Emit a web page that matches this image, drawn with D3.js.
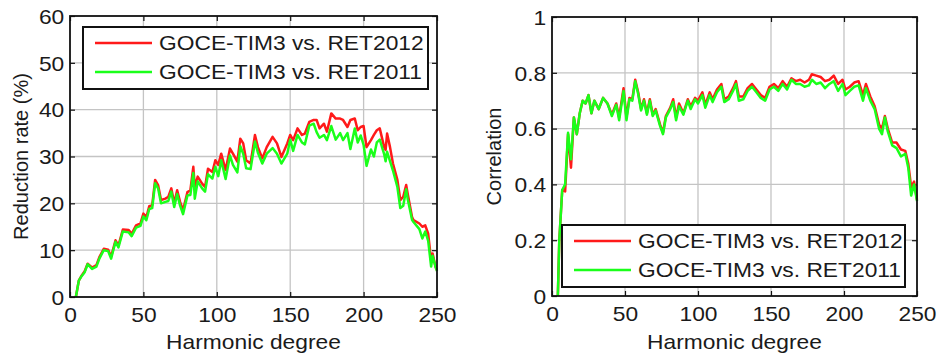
<!DOCTYPE html>
<html>
<head>
<meta charset="utf-8">
<script src="https://cdn.jsdelivr.net/npm/d3@7"></script>
<style>
  body { margin: 0; background: #fff; }
  text { font-family: "Liberation Sans", Arial, sans-serif; fill: #1a1a1a; }
</style>
</head>
<body>
<div id="chart"></div>
<script>
// left panel: reduction rate (%)
const rateDegrees = [4,6,8,10,12,15,18,20,23,26,28,31,33,36,40,42,45,48,50,52,54,56,58,60,62,65,67,69,71,73,75,77,80,82,84,85,87,90,92,94,97,99,101,103,106,109,111,114,116,118,120,123,126,128,131,134,138,141,144,148,150,152,155,158,160,163,166,168,170,173,175,178,181,184,186,189,191,194,196,198,200,202,205,207,209,211,214,215,216,218,220,223,225,227,229,230,233,234,238,240,242,244,246,247,249,250];
const rate2012 = [0,3.5,4.6,5.5,7.1,6.3,6.8,8.5,10.3,10.1,8.6,12.1,11,14.4,14.3,13.5,15.3,15.7,17.8,17,19.4,19.6,25,23.9,20.7,21,21.4,23.2,20,22.8,20.3,18.5,22.4,22.8,27.8,23.5,25.7,24.2,23.5,27.4,26.7,29.2,28.2,30.6,27.1,31.7,30.6,28.9,33.8,32.8,29.2,28.5,34.6,32,29.6,32,34.2,32.8,29.9,32.8,34.6,33.5,36,34.6,34.9,37.4,37.8,37.8,36,37,35.3,39.2,38.1,38.1,37.8,36.3,37.8,38.1,35.6,36.3,36.5,32,33.5,34.6,35.6,36,32,31.4,34.9,32,28.5,25,20.7,21.4,23.9,22.1,17.1,16.4,15.7,15,15.3,13.5,7.8,9.3,6.4,5.7];
const rate2011 = [0,3.5,4.5,5.3,7,6,6.5,8.2,10,9.8,8.2,11.8,10.6,14,13.8,13,14.8,15.2,17.2,16.4,18.8,19,24.3,23.2,20,20.3,20.5,22.5,19.2,22,19.5,17.7,21.7,21.8,26.5,21,24.7,23.2,22.5,26.2,25.3,27.8,25.8,29.2,25.2,30.2,28.2,26.6,32.2,30.6,27.5,27.3,33.2,30.8,28.5,30.6,31.8,30.6,28.5,30.6,33.6,31.2,34.6,33,32.6,36.6,37,35.2,34,34.6,33.5,36.5,33.6,35,33.5,35,31.6,36,33,34.5,32.5,28,31.5,30,33,33.6,30.5,29,31,29,27,23.5,19,19.5,23,21,16.5,16,14.5,12.5,14,12,6.5,8.8,6.5,5.5];

// right panel: correlation
const corrDegrees = [4,5,7,9,11,13,15,17,19,21,23,25,27,29,32,35,38,41,44,46,49,51,53,55,57,59,61,63,65,67,69,71,74,76,78,81,83,85,87,90,93,95,98,100,103,105,108,110,113,116,118,121,124,126,128,131,134,137,140,143,146,149,152,155,158,161,164,167,170,173,176,178,181,184,187,190,193,196,199,201,204,207,210,213,215,218,221,224,226,228,230,233,236,239,242,244,246,248,250];
const corr2012 = [0,0.2,0.38,0.375,0.58,0.46,0.64,0.58,0.655,0.70,0.69,0.72,0.655,0.70,0.67,0.71,0.69,0.65,0.69,0.64,0.745,0.64,0.71,0.705,0.775,0.73,0.67,0.705,0.655,0.705,0.65,0.67,0.615,0.585,0.645,0.675,0.705,0.64,0.69,0.655,0.705,0.68,0.71,0.70,0.73,0.685,0.73,0.705,0.74,0.76,0.705,0.715,0.745,0.77,0.715,0.715,0.745,0.76,0.74,0.72,0.71,0.75,0.76,0.745,0.77,0.75,0.78,0.77,0.775,0.765,0.775,0.795,0.79,0.785,0.77,0.775,0.79,0.76,0.775,0.74,0.75,0.765,0.77,0.72,0.76,0.715,0.68,0.615,0.60,0.645,0.60,0.55,0.55,0.525,0.52,0.475,0.39,0.41,0.345];
const corr2011 = [0,0.2,0.38,0.40,0.585,0.49,0.64,0.58,0.655,0.70,0.69,0.72,0.655,0.70,0.67,0.71,0.69,0.645,0.685,0.63,0.735,0.63,0.705,0.70,0.77,0.725,0.665,0.70,0.65,0.70,0.645,0.665,0.61,0.58,0.64,0.67,0.695,0.63,0.68,0.65,0.70,0.67,0.705,0.69,0.72,0.675,0.72,0.695,0.73,0.75,0.695,0.705,0.735,0.76,0.70,0.705,0.735,0.75,0.73,0.71,0.70,0.74,0.75,0.735,0.76,0.74,0.775,0.76,0.76,0.75,0.755,0.775,0.76,0.765,0.745,0.76,0.77,0.735,0.76,0.72,0.735,0.75,0.755,0.70,0.745,0.70,0.67,0.60,0.58,0.64,0.59,0.54,0.53,0.50,0.51,0.46,0.36,0.40,0.34];

const seriesNames = ['GOCE-TIM3 vs. RET2012', 'GOCE-TIM3 vs. RET2011'];
const seriesColors = ['#ff1a1a', '#1aff1a'];
const xTicks = [0, 50, 100, 150, 200, 250];
const rateTicks = [0, 10, 20, 30, 40, 50, 60];
const corrTicks = [0, 0.2, 0.4, 0.6, 0.8, 1];

// the source image is a bit stretched sideways, so text is widened
const STRETCH = 'scale(1.14,1)';

const svg = d3.select('#chart').append('svg')
  .attr('width', 938).attr('height', 359);

function panel(opts) {
  const x = d3.scaleLinear().domain([0, 250]).range([opts.left, opts.right]);
  const y = d3.scaleLinear().domain(opts.yDomain).range([opts.bottom, opts.top]);
  const g = svg.append('g');

  // grid
  g.selectAll('.vgrid').data(xTicks.slice(1, -1)).enter().append('line')
    .attr('x1', d => x(d)).attr('x2', d => x(d))
    .attr('y1', opts.top).attr('y2', opts.bottom)
    .attr('stroke', '#c4c4c4').attr('stroke-width', 1.3);
  g.selectAll('.hgrid').data(opts.yTicks.slice(1, -1)).enter().append('line')
    .attr('x1', opts.left).attr('x2', opts.right)
    .attr('y1', d => y(d)).attr('y2', d => y(d))
    .attr('stroke', '#c4c4c4').attr('stroke-width', 1.3);

  // axes (inner ticks, matlab style)
  const xAxis = g.append('g').attr('transform', `translate(0,${opts.bottom})`)
    .call(d3.axisBottom(x).tickValues(xTicks).tickSizeInner(-5).tickSizeOuter(0).tickPadding(11));
  const yAxis = g.append('g').attr('transform', `translate(${opts.left},0)`)
    .call(d3.axisLeft(y).tickValues(opts.yTicks).tickFormat(d3.format('')).tickSizeInner(-5).tickSizeOuter(0).tickPadding(5));
  g.append('g').attr('transform', `translate(${opts.right},0)`)
    .call(d3.axisRight(y).tickValues(opts.yTicks).tickSizeInner(-5).tickSizeOuter(0).tickFormat(''));
  g.append('g').attr('transform', `translate(0,${opts.top})`)
    .call(d3.axisTop(x).tickValues(xTicks).tickSizeInner(-5).tickSizeOuter(0).tickFormat(''));
  g.selectAll('.domain').remove();
  g.selectAll('.tick line').attr('stroke', '#111').attr('stroke-width', 1.2);
  g.selectAll('.tick text').style('font-size', '20px').attr('fill', '#1a1a1a');
  xAxis.selectAll('.tick text').attr('dy', '0.71em').attr('transform', STRETCH);
  yAxis.selectAll('.tick text').attr('dy', '0.36em').attr('transform', STRETCH);

  // lines
  const line = d3.line().x(d => x(d[0])).y(d => y(d[1]));
  opts.series.forEach((vals, i) => {
    g.append('path')
      .datum(opts.degrees.map((d, k) => [d, vals[k]]))
      .attr('d', line)
      .attr('fill', 'none')
      .attr('stroke', seriesColors[i])
      .attr('stroke-width', 2.5)
      .attr('stroke-linejoin', 'round');
  });

  // frame
  g.append('rect')
    .attr('x', opts.left).attr('y', opts.top)
    .attr('width', opts.right - opts.left).attr('height', opts.bottom - opts.top)
    .attr('fill', 'none').attr('stroke', '#111').attr('stroke-width', 1.8);

  // labels
  g.append('text')
    .attr('transform', `translate(${(opts.left + opts.right) / 2},349) ${STRETCH}`)
    .attr('text-anchor', 'middle').style('font-size', '20px')
    .text('Harmonic degree');
  g.append('text')
    .attr('transform', `translate(${opts.yLabelX},${(opts.top + opts.bottom) / 2}) rotate(-90)`)
    .attr('text-anchor', 'middle').style('font-size', '20px')
    .text(opts.yLabel);

  // legend
  const lg = g.append('g');
  lg.append('rect')
    .attr('x', opts.legend.x).attr('y', opts.legend.y)
    .attr('width', opts.legend.w).attr('height', 62)
    .attr('fill', '#fff').attr('stroke', '#111').attr('stroke-width', 2);
  seriesNames.forEach((name, i) => {
    const ly = opts.legend.y + 16 + i * 29;
    lg.append('line')
      .attr('x1', opts.legend.x + 12).attr('x2', opts.legend.x + 69)
      .attr('y1', ly).attr('y2', ly)
      .attr('stroke', seriesColors[i]).attr('stroke-width', 2.6);
    lg.append('text')
      .attr('transform', `translate(${opts.legend.x + 76},${ly}) ${STRETCH}`)
      .attr('dy', '0.36em')
      .style('font-size', '20px')
      .text(name);
  });
}

panel({
  left: 70, right: 437, top: 16, bottom: 297,
  yDomain: [0, 60], yTicks: rateTicks,
  degrees: rateDegrees, series: [rate2012, rate2011],
  yLabel: 'Reduction rate (%)', yLabelX: 28,
  legend: { x: 83, y: 27, w: 345 }
});

panel({
  left: 552, right: 917, top: 17, bottom: 296,
  yDomain: [0, 1], yTicks: corrTicks,
  degrees: corrDegrees, series: [corr2012, corr2011],
  yLabel: 'Correlation', yLabelX: 501,
  legend: { x: 562, y: 225, w: 343 }
});
</script>
</body>
</html>
